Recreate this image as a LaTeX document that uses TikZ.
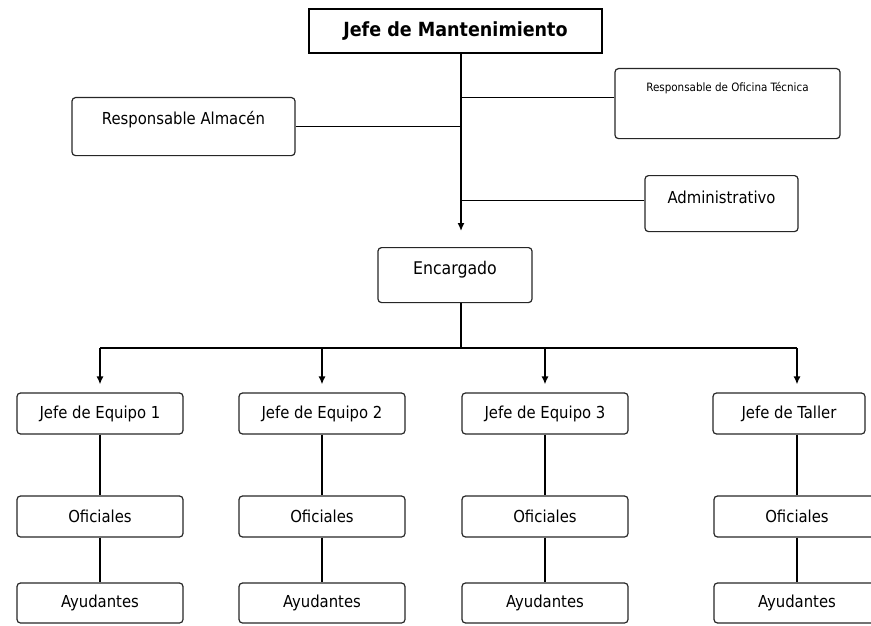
\documentclass[tikz,border=0pt]{standalone}
\usepackage{fontspec}
\setmainfont{DejaVu Sans Condensed}
\usetikzlibrary{positioning}
\usetikzlibrary{arrows.meta}

\begin{document}
\begin{tikzpicture}[x=1pt,y=-1pt]
\tikzstyle{box}=[draw=black!85,line width=1.2pt,rounded corners=3.5pt,inner sep=0pt,align=center,font=\fontsize{16.5}{18}\selectfont]
\tikzstyle{topbox}=[box,anchor=north]
\tikzstyle{connection}=[line width=1.4pt,draw=black]
\tikzstyle{arrow}=[connection,-{Latex[length=8pt,width=7pt]}]
\useasboundingbox (0,0) rectangle (871,626);
\clip (0,0) rectangle (871,626);
%%%%%%%%%%%%%%%%%%%%%%%%%%%%%%%%%%%%%%%%%%%%%%%%%%%%%%%%%%%%%%%%%%%%%%%%%%%%%%%%%%%%%%%%
%% Draw boxes
%%%%%%%%%%%%%%%%%%%%%%%%%%%%%%%%%%%%%%%%%%%%%%%%%%%%%%%%%%%%%%%%%%%%%%%%%%%%%%%%%%%%%%%%
% top of the chart
\node[draw=black,line width=1.8pt,inner sep=0pt,minimum width=293,minimum height=44,font=\fontsize{19.5}{21}\selectfont\bfseries] (jefe) at (455.5,31) {Jefe de Mantenimiento};
\coordinate (spine) at (461,0);

% staff boxes
\node[topbox,minimum width=223,text height=27,text depth=31] (alm) at (183.5,97) {Responsable Almacén};
\node[topbox,minimum width=225,text height=23,text depth=47,font=\fontsize{11.5}{13}\selectfont] (ofic) at (727.5,68) {Responsable de Oficina Técnica};
\node[topbox,minimum width=153,text height=28,text depth=28] (admin) at (721.5,175) {Administrativo};

% foreman
\node[topbox,minimum width=154,text height=27,text depth=28,font=\fontsize{17.5}{19}\selectfont] (enc) at (455,247) {Encargado};
\coordinate (bus) at (461,348);

% team leaders
\node[box,minimum width=166,minimum height=41] (je1) at (100,413.5) {Jefe de Equipo 1};
\node[box,minimum width=166,minimum height=41] (je2) at (322,413.5) {Jefe de Equipo 2};
\node[box,minimum width=166,minimum height=41] (je3) at (545,413.5) {Jefe de Equipo 3};
\node[box,minimum width=152,minimum height=41] (taller) at (789,413.5) {Jefe de Taller};

% officers
\node[box,minimum width=166,minimum height=41] (of1) at (100,516.5) {Oficiales};
\node[box,minimum width=166,minimum height=41] (of2) at (322,516.5) {Oficiales};
\node[box,minimum width=166,minimum height=41] (of3) at (545,516.5) {Oficiales};
\node[box,minimum width=166,minimum height=41] (of4) at (797,516.5) {Oficiales};

% helpers
\node[box,minimum width=166,minimum height=40] (ay1) at (100,603) {Ayudantes};
\node[box,minimum width=166,minimum height=40] (ay2) at (322,603) {Ayudantes};
\node[box,minimum width=166,minimum height=40] (ay3) at (545,603) {Ayudantes};
\node[box,minimum width=166,minimum height=40] (ay4) at (797,603) {Ayudantes};
%%%%%%%%%%%%%%%%%%%%%%%%%%%%%%%%%%%%%%%%%%%%%%%%%%%%%%%%%%%%%%%%%%%%%%%%%%%%%%%%%%%%%%%%

%%%%%%%%%%%%%%%%%%%%%%%%%%%%%%%%%%%%%%%%%%%%%%%%%%%%%%%%%%%%%%%%%%%%%%%%%%%%%%%%%%%%%%%%
%%% Draw connections
%%%%%%%%%%%%%%%%%%%%%%%%%%%%%%%%%%%%%%%%%%%%%%%%%%%%%%%%%%%%%%%%%%%%%%%%%%%%%%%%%%%%%%%%
\draw[arrow,shorten >=16pt] (jefe.south -| spine) -- (enc.north -| spine);
\draw[connection] ([yshift=6pt]ofic.west) -- ([yshift=6pt]ofic.west -| spine);
\draw[connection] (alm.east) -- (alm.east -| spine);
\draw[connection] ([yshift=3pt]admin.west) -- ([yshift=3pt]admin.west -| spine);

\draw[connection] (enc.south -| spine) -- (bus);
\draw[connection] (of1 |- bus) -- (of4 |- bus);
\draw[arrow,shorten >=8pt] (of1 |- bus) -- (je1.north);
\draw[arrow,shorten >=8pt] (of2 |- bus) -- (je2.north);
\draw[arrow,shorten >=8pt] (of3 |- bus) -- (je3.north);
\draw[arrow,shorten >=8pt] (of4 |- bus) -- (of4 |- taller.north);

\draw[connection] (je1) -- (of1);
\draw[connection] (je2) -- (of2);
\draw[connection] (je3) -- (of3);
\draw[connection] (of4 |- taller.south) -- (of4.north);
\draw[connection] (of1) -- (ay1);
\draw[connection] (of2) -- (ay2);
\draw[connection] (of3) -- (ay3);
\draw[connection] (of4) -- (ay4);
%%%%%%%%%%%%%%%%%%%%%%%%%%%%%%%%%%%%%%%%%%%%%%%%%%%%%%%%%%%%%%%%%%%%%%%%%%%%%%%%%%%%%%%%

\end{tikzpicture}
\end{document}
